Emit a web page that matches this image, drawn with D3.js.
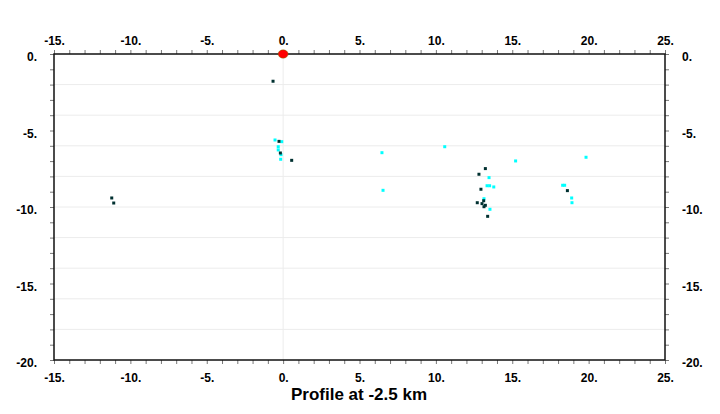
<!DOCTYPE html>
<html><head><meta charset="utf-8">
<script src="https://cdn.jsdelivr.net/npm/d3@7"></script>
<style>body{margin:0;background:#fff}svg{display:block}</style>
</head><body>
<svg id="c" width="720" height="414"></svg>
<script>
// Data: distance along profile (km) and depth (km)
const blackX = [-0.66, -0.27, -0.18, 0.56, 13.24, 12.82, 12.95, 13.13, 12.71, 13.02, 13.24, 13.15, 13.39, 18.61, -11.22, -11.09];
const blackY = [-1.78, -5.71, -6.47, -6.95, -7.49, -7.86, -8.84, -9.59, -9.72, -9.78, -9.89, -9.98, -10.61, -8.93, -9.41, -9.74];
const cyanX = [-0.53, -0.09, -0.32, -0.32, -0.14, -0.16, 6.47, 10.58, 15.22, 6.54, 13.48, 13.35, 13.52, 13.79, 13.15, 13.54, 19.83, 18.30, 18.43, 18.89, 18.91];
const cyanY = [-5.62, -5.73, -6.06, -6.27, -6.58, -6.88, -6.45, -6.06, -6.99, -8.91, -8.08, -8.61, -8.61, -8.69, -9.46, -10.15, -6.75, -8.58, -8.58, -9.41, -9.72];
const stationX = [0];
const stationY = [0];
const xDomain = [-15, 25];
const yDomain = [-20, 0];
const xLabelTicks = [-15, -10, -5, 0, 5, 10, 15, 20, 25];
const yLabelTicks = [0, -5, -10, -15, -20];
const title = "Profile at -2.5 km";

const svg = d3.select("#c");
const L = 54, R = 665, T = 54, B = 360;
const x = d3.scaleLinear().domain(xDomain).range([L, R]);
const y = d3.scaleLinear().domain(yDomain).range([B, T]);
const fmt = d => d + ".";

// grid
const gy = d3.range(-18, 0, 2);
svg.append("g").selectAll("line").data(gy).join("line")
  .attr("x1", L).attr("x2", R).attr("y1", d => y(d)).attr("y2", d => y(d))
  .attr("stroke", "#ececec").attr("stroke-width", 1);
svg.append("line").attr("x1", x(0)).attr("x2", x(0)).attr("y1", T).attr("y2", B)
  .attr("stroke", "#ececec").attr("stroke-width", 1);

// axes
const xt = d3.range(-15, 26, 1), yt = d3.range(-20, 1, 1);
function styleAxis(g){
  g.select(".domain").remove();
  g.selectAll(".tick line").attr("stroke", "#777");
  g.selectAll("text").attr("font-family", "Liberation Sans, Arial, sans-serif")
    .attr("font-weight", "bold").attr("font-size", 12).attr("fill", "#000");
  g.selectAll(".tick text").filter(function(){ return this.textContent === ""; }).remove();
}
function labelOnly(vals){ return d => vals.includes(d) ? fmt(d) : ""; }
svg.append("g").attr("transform", `translate(0,${T})`)
  .call(d3.axisTop(x).tickValues(xt).tickSize(4).tickPadding(5).tickFormat(labelOnly(xLabelTicks))).call(styleAxis);
svg.append("g").attr("transform", `translate(0,${B})`)
  .call(d3.axisBottom(x).tickValues(xt).tickSize(4).tickPadding(9).tickFormat(labelOnly(xLabelTicks))).call(styleAxis);
svg.append("g").attr("transform", `translate(${L},0)`)
  .call(d3.axisLeft(y).tickValues(yt).tickSize(4).tickPadding(13).tickFormat(labelOnly(yLabelTicks))).call(styleAxis)
  .selectAll("text").attr("dy", "0.55em");
svg.append("g").attr("transform", `translate(${R},0)`)
  .call(d3.axisRight(y).tickValues(yt).tickSize(4).tickPadding(13).tickFormat(labelOnly(yLabelTicks))).call(styleAxis)
  .selectAll("text").attr("dy", "0.55em");

// frame
svg.append("rect").attr("x", L).attr("y", T).attr("width", R - L).attr("height", B - T)
  .attr("fill", "none").attr("stroke", "#111").attr("stroke-width", 1.5);

// points
const cyan = cyanX.map((v, i) => [v, cyanY[i]]);
const black = blackX.map((v, i) => [v, blackY[i]]);
svg.append("g").selectAll("rect").data(cyan).join("rect")
  .attr("x", d => x(d[0]) - 1.5).attr("y", d => y(d[1]) - 1.5).attr("width", 3).attr("height", 3)
  .attr("fill", "#00ffff");
svg.append("g").selectAll("rect").data(black).join("rect")
  .attr("x", d => x(d[0]) - 1.5).attr("y", d => y(d[1]) - 1.5).attr("width", 3).attr("height", 3)
  .attr("fill", "#003030");

// station
svg.append("g").selectAll("ellipse").data(stationX.map((v, i) => [v, stationY[i]])).join("ellipse")
  .attr("cx", d => x(d[0])).attr("cy", d => y(d[1])).attr("rx", 5).attr("ry", 4.2)
  .attr("fill", "#ff0000").attr("stroke", "#6a8a00").attr("stroke-width", 0.4);

// title
svg.append("text").attr("x", (L + R) / 2 - 0.5).attr("y", 400).attr("text-anchor", "middle")
  .attr("font-family", "Liberation Sans, Arial, sans-serif").attr("font-size", 17).attr("font-weight", "bold")
  .attr("fill", "#000").text(title);
</script>
</body></html>
